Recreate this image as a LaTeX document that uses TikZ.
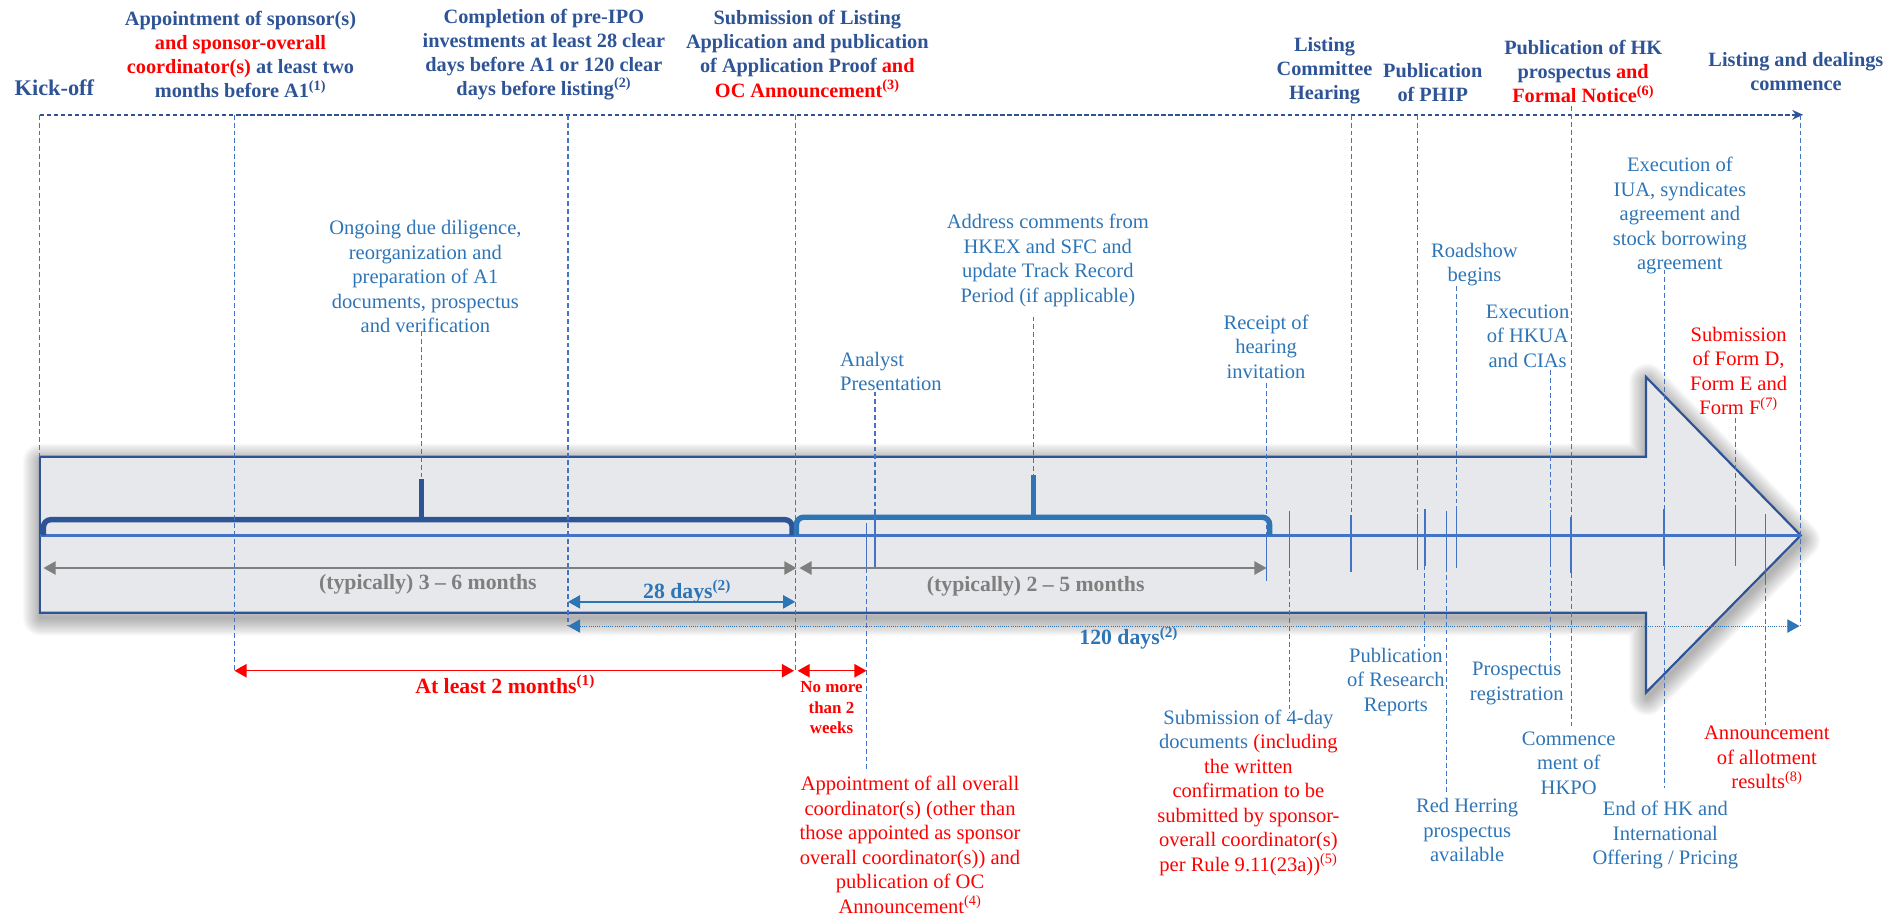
\documentclass[tikz,border=0pt]{standalone}
\usepackage{fontspec}
\setmainfont{Liberation Serif}
\usetikzlibrary{arrows.meta}
\definecolor{hdrblue}{RGB}{47,84,150}
\definecolor{midblue}{RGB}{46,117,182}
\definecolor{lineblue}{RGB}{68,114,196}
\definecolor{lblgray}{RGB}{127,127,127}
\definecolor{arrowfill}{RGB}{231,232,235}
\definecolor{myred}{RGB}{255,0,0}
\newcommand\vseg[5]{\coordinate (#5a) at (#2,#3); \coordinate (#5b) at (#2,#4); \draw[#1] (#5a) -- (#5b);}
\begin{document}
\begin{tikzpicture}[x=1pt,y=-1pt,
 hdr/.style={text=hdrblue,font=\bfseries\fontsize{16.8}{20}\selectfont,align=center,inner sep=0pt},
 midtxt/.style={text=midblue,font=\fontsize{17}{20.3}\selectfont,align=center,inner sep=0pt},
 redtxt/.style={midtxt,text=myred},
 lbl/.style={font=\bfseries\fontsize{18}{21}\selectfont,inner sep=0pt},
 vdash/.style={draw=lineblue,line width=0.9pt,dash pattern=on 4pt off 2.5pt},
 ticksol/.style={draw=lineblue,line width=1.2pt},
 bracea/.style={draw=hdrblue,line width=4.5pt,rounded corners=6pt},
 braceb/.style={draw=midblue,line width=4.5pt,rounded corners=6pt},
 dbl/.style={line width=1.2pt,arrows={Triangle[length=10pt,width=11pt]-Triangle[length=10pt,width=11pt]}},
 topdash/.style={draw=hdrblue,line width=1.4pt,dash pattern=on 3.6pt off 2.2pt,arrows={-Stealth[length=9pt,width=8pt]}},
]
\useasboundingbox (0,0) rectangle (1568,760);

% ---- shadow of the big arrow
\foreach \w in {2,4,...,30}{
  \draw[black,opacity=0.022,line width=\w pt,line join=round]
   (34,382)--(1363,382)--(1363,316)--(1491,447)--(1363,577)--(1363,511)--(34,511)--cycle;
}
% ---- big arrow
\draw[fill=arrowfill,draw=hdrblue,line width=1.8pt]
   (33,378)--(1362,378)--(1362,312)--(1490,443)--(1362,573)--(1362,507)--(33,507)--cycle;
\coordinate (ml) at (33,443); \coordinate (mr) at (1490,443);
\draw[lineblue,line width=2pt] (ml)--(mr);

% ---- braces
\draw[bracea] (36,443) -- (36,430) -- (655.5,430) -- (655.5,443);
\draw[hdrblue,line width=4pt] (349,432) -- (349,396);
\draw[braceb] (659,443) -- (659,428) -- (1050.5,428) -- (1050.5,443);
\draw[midblue,line width=4pt] (855,430) -- (855,393);

% ---- top dashed arrow
\coordinate (tl) at (33,95); \coordinate (tr) at (1492,95);
\draw[topdash] (tl) -- (tr);

% ---- vertical lines
\vseg{vdash}{33}{95}{378}{v1}
\vseg{vdash}{194}{95}{555}{v2}
\vseg{vdash}{470}{95}{518}{v3}
\vseg{vdash}{658}{95}{555}{v4}
\vseg{vdash}{349}{274}{396}{v5}
\vseg{vdash}{855}{262}{393}{v6}
\vseg{vdash}{724}{324}{425}{v7}
\vseg{ticksol}{724}{425}{470}{v7s}
\vseg{ticksol}{717}{433}{470}{v8s}
\vseg{vdash}{717}{470}{636}{v8}
\vseg{vdash}{1048}{317}{443}{v9}
\vseg{ticksol}{1048}{443}{481}{v9s}
\vseg{ticksol}{1067}{423}{466}{v10s}
\vseg{vdash}{1067}{466}{590}{v10}
\vseg{vdash}{1118}{95}{426}{v11}
\vseg{ticksol}{1118}{426}{473}{v11s}
\vseg{vdash}{1173}{95}{425}{v12}
\vseg{ticksol}{1173}{425}{472}{v12s}
\vseg{ticksol}{1179}{421}{468}{v13s}
\vseg{vdash}{1179}{468}{535}{v13}
\vseg{ticksol}{1197}{423}{469}{v14s}
\vseg{vdash}{1197}{469}{655}{v14}
\vseg{vdash}{1205}{237}{423}{v15}
\vseg{ticksol}{1205}{423}{470}{v15s}
\vseg{vdash}{1283}{306}{422}{v16}
\vseg{ticksol}{1283}{422}{465}{v16s}
\vseg{vdash}{1283}{465}{550}{v16c}
\vseg{vdash}{1300}{88}{428}{v17}
\vseg{ticksol}{1300}{428}{474}{v17s}
\vseg{vdash}{1300}{474}{601}{v17c}
\vseg{vdash}{1377}{223}{421}{v18}
\vseg{ticksol}{1377}{421}{468}{v18s}
\vseg{vdash}{1377}{468}{652}{v18c}
\vseg{vdash}{1436}{346}{419}{v19}
\vseg{ticksol}{1436}{419}{468}{v19s}
\vseg{ticksol}{1461}{425}{480}{v20s}
\vseg{vdash}{1461}{480}{600}{v20}
\vseg{vdash}{1490}{95}{518}{v21}

% ---- dimension arrows
\coordinate (g1a) at (36,470); \coordinate (g1b) at (659,470);
\draw[dbl,lblgray] (g1a) -- (g1b);
\coordinate (g2a) at (661.5,470); \coordinate (g2b) at (1048,470);
\draw[dbl,lblgray] (g2a) -- (g2b);
\coordinate (b28a) at (470,498); \coordinate (b28b) at (658,498);
\draw[dbl,midblue] (b28a) -- (b28b);
\coordinate (b120a) at (470,518); \coordinate (b120b) at (1489,518);
\draw[dbl,midblue,line width=0.8pt,densely dotted] (b120a) -- (b120b);
\coordinate (r1a) at (194,555); \coordinate (r1b) at (657,555);
\draw[dbl,myred] (r1a) -- (r1b);
\coordinate (r2a) at (660,555); \coordinate (r2b) at (717,555);
\draw[dbl,myred] (r2a) -- (r2b);

% ---- dimension labels
\node[lbl,text=lblgray] (l36) at (354,483.5) {(typically) 3 -- 6 months};
\node[lbl,text=lblgray] (l25) at (857,485) {(typically) 2 -- 5 months};
\node[lbl,text=midblue] (l28) at (568.5,489.5) {28 days\textsuperscript{(2)}};
\node[lbl,text=midblue] (l120) at (934,528) {120 days\textsuperscript{(2)}};
\node[lbl,text=myred] (l2m) at (418,566) {At least 2 months\textsuperscript{(1)}};
\node[text=myred,font=\bfseries\fontsize{14}{17}\selectfont,align=center,inner sep=0pt] (l2w) at (688,585.5) {No more\\than 2\\weeks};

% ---- headers
\node[hdr,font=\bfseries\fontsize{18.5}{22}\selectfont] (kick) at (45,73) {Kick-off};
\node[hdr] (appt) at (199,45) {Appointment of sponsor(s)\\\textcolor{myred}{and sponsor-overall}\\\textcolor{myred}{coordinator(s)} at least two\\months before A1\textsuperscript{(1)}};
\node[hdr] (compl) at (450,45) {Completion of pre-IPO\\investments at least 28 clear\\days before A1 or 120 clear\\days before listing\textsuperscript{(2)}};
\node[hdr] (subm) at (668,44.5) {Submission of Listing\\Application and publication\\of Application Proof \textcolor{myred}{and}\\\textcolor{myred}{OC Announcement\textsuperscript{(3)}}};
\node[hdr] (lch) at (1096,58.5) {Listing\\Committee\\Hearing};
\node[hdr] (phip) at (1185.5,68.5) {Publication\\of PHIP};
\node[hdr] (hkp) at (1310,59.3) {Publication of HK\\prospectus \textcolor{myred}{and}\\\textcolor{myred}{Formal Notice\textsuperscript{(6)}}};
\node[hdr] (lst) at (1486,59.5) {Listing and dealings\\commence};

% ---- upper texts
\node[midtxt] (ongo) at (352,229) {Ongoing due diligence,\\reorganization and\\preparation of A1\\documents, prospectus\\and verification};
\node[midtxt] (addr) at (867,215.6) {Address comments from\\HKEX and SFC and\\update Track Record\\Period (if applicable)};
\node[midtxt,align=left,anchor=west] (anal) at (695,307.5) {Analyst\\Presentation};
\node[midtxt] (rcpt) at (1047.6,287) {Receipt of\\hearing\\invitation};
\node[midtxt] (road) at (1220,219) {Roadshow\\begins};
\node[midtxt] (hkua) at (1264,278) {Execution\\of HKUA\\and CIAs};
\node[midtxt] (iua) at (1390,178.4) {Execution of\\IUA, syndicates\\agreement and\\stock borrowing\\agreement};
\node[redtxt] (formd) at (1438.6,307) {Submission\\of Form D,\\Form E and\\Form F\textsuperscript{(7)}};

% ---- lower texts
\node[redtxt] (ocap) at (753,699) {Appointment of all overall\\coordinator(s) (other than\\those appointed as sponsor\\overall coordinator(s)) and\\publication of OC\\Announcement\textsuperscript{(4)}};
\node[midtxt] (fourd) at (1033,656) {Submission of 4-day\\documents \textcolor{myred}{(including}\\\textcolor{myred}{the written}\\\textcolor{myred}{confirmation to be}\\\textcolor{myred}{submitted by sponsor-}\\\textcolor{myred}{overall coordinator(s)}\\\textcolor{myred}{per Rule 9.11(23a))\textsuperscript{(5)}}};
\node[midtxt] (res) at (1155,564) {Publication\\of Research\\Reports};
\node[midtxt] (rh) at (1214,687) {Red Herring\\prospectus\\available};
\node[midtxt] (preg) at (1255,565.5) {Prospectus\\registration};
\node[midtxt] (hkpo) at (1298,631.5) {Commence\\ment of\\HKPO};
\node[midtxt] (endhk) at (1378,691) {End of HK and\\International\\Offering / Pricing};
\node[redtxt] (allot) at (1462,627) {Announcement\\of allotment\\results\textsuperscript{(8)}};
\end{tikzpicture}
\end{document}
